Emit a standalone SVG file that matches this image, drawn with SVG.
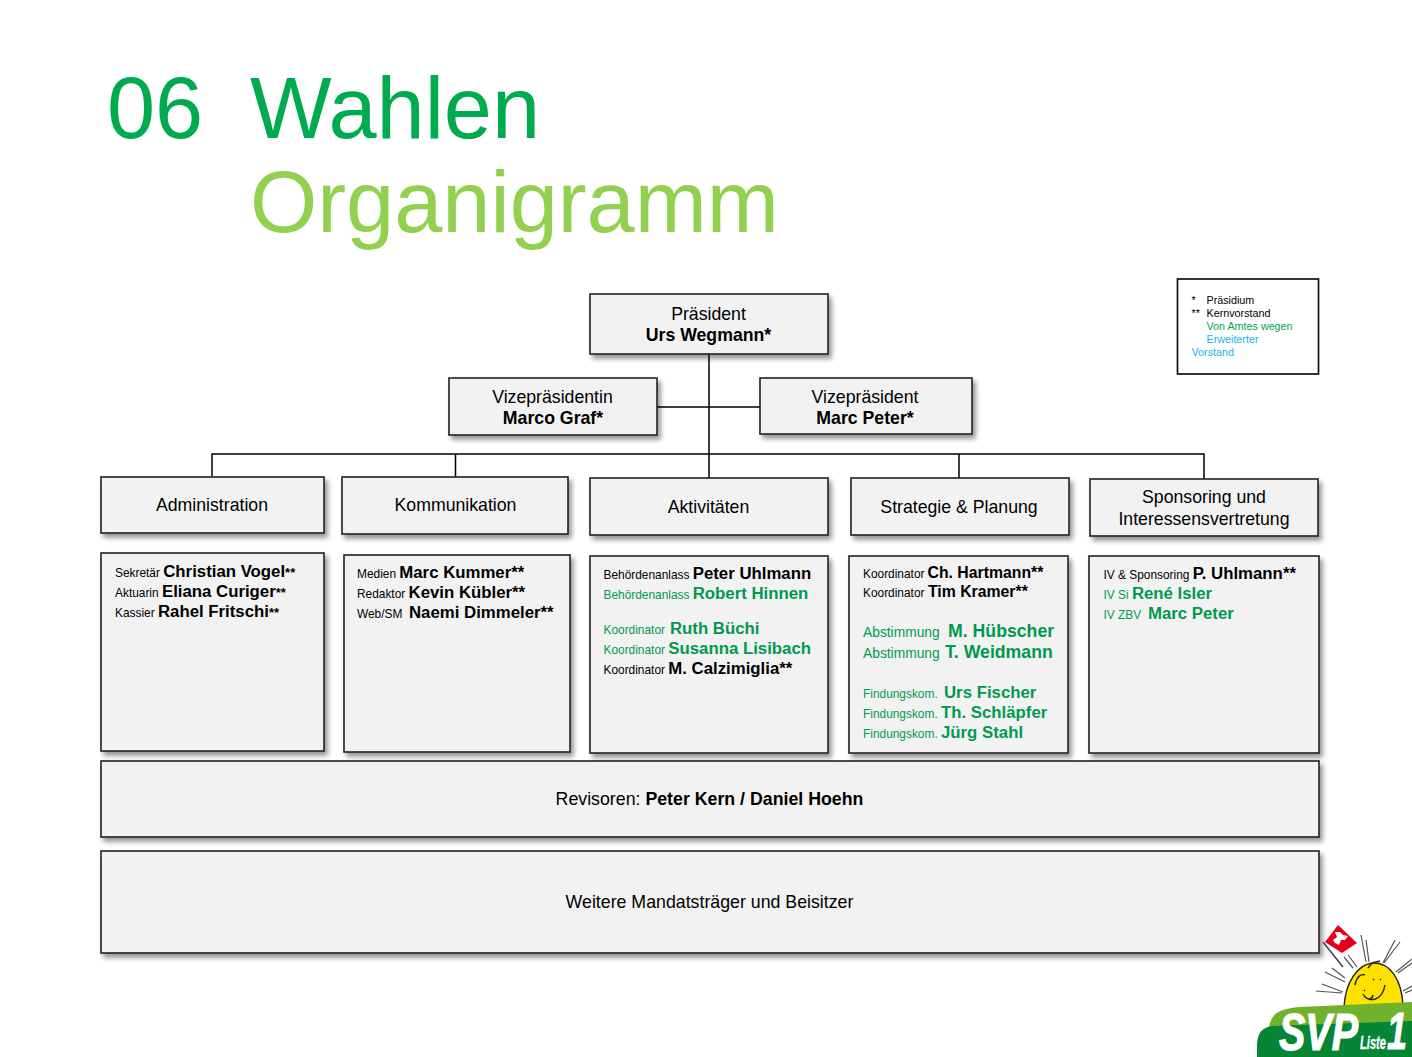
<svg xmlns="http://www.w3.org/2000/svg" width="1412" height="1057" viewBox="0 0 1412 1057">
<style>
text{font-family:"Liberation Sans",Arial,sans-serif;fill:#000}
.box{fill:#f2f2f2;stroke:#222;stroke-width:1.6;filter:url(#sh)}
.t{font-size:17.7px;text-anchor:middle}
.b{font-weight:bold}
.s{font-size:11.9px}
.st{font-size:13px;font-weight:bold}
.n{font-size:16.8px;font-weight:bold}
.h{font-size:15.8px;font-weight:bold}
.l{font-size:17.7px;font-weight:bold}
.a{font-size:13.8px}
.g,.g text{fill:#009a4e}
.conn{fill:none;stroke:#000;stroke-width:1.5}
.leg{font-size:10.75px}
.ray{fill:none;stroke:#555;stroke-width:1.2}
.logo{fill:#fff;font-weight:bold;font-style:italic;stroke:#fff}
</style>
<defs>
<filter id="sh" x="-5%" y="-10%" width="110%" height="125%">
<feDropShadow dx="3" dy="4" stdDeviation="2.4" flood-color="#000" flood-opacity=".42"/>
</filter>
</defs>
<rect width="1412" height="1057" fill="#fff"/>
<g id="title">
<text x="107" y="137.500" font-size="86.500" style="fill:#00ab50">06</text>
<text x="250" y="137.500" font-size="86.500" style="fill:#00ab50">Wahlen</text>
<text x="250" y="231.500" font-size="86.500" style="fill:#92d050">Organigramm</text>
</g>
<g id="connectors" class="conn">
<path d="M709 354V478M657 407H760M212 476V454H1204V480M455.500 454V477M959 454V478"/>
</g>
<g id="praesident"><rect class="box" x="590" y="294" width="238" height="60"/><text class="t" x="708.500" y="320">Präsident</text><text class="t b" x="708.500" y="341">Urs Wegmann*</text></g>
<g id="vize1"><rect class="box" x="449" y="378" width="208" height="57"/><text class="t" x="552.500" y="403">Vizepräsidentin</text><text class="t b" x="553" y="424">Marco Graf*</text></g>
<g id="vize2"><rect class="box" x="760" y="378" width="212" height="56"/><text class="t" x="865" y="402.500">Vizepräsident</text><text class="t b" x="865" y="423.500">Marc Peter*</text></g>
<g id="administration"><rect class="box" x="101" y="477" width="223" height="56"/><text class="t" x="212" y="511">Administration</text></g>
<g id="kommunikation"><rect class="box" x="342" y="477" width="226" height="57"/><text class="t" x="455.500" y="511">Kommunikation</text></g>
<g id="aktivitaeten"><rect class="box" x="590" y="478" width="238" height="57"/><text class="t" x="708.500" y="513">Aktivitäten</text></g>
<g id="strategie"><rect class="box" x="851" y="478" width="218" height="57"/><text class="t" x="959" y="513">Strategie &amp; Planung</text></g>
<g id="sponsoring"><rect class="box" x="1090" y="479" width="228" height="57"/><text class="t" x="1204" y="503">Sponsoring und</text><text class="t" x="1204" y="525">Interessensvertretung</text></g>
<g id="admin-list"><rect class="box" x="101" y="553" width="223" height="198"/>
<text x="115" y="577"><tspan class="s">Sekretär </tspan><tspan class="n">Christian Vogel</tspan><tspan class="st">**</tspan></text>
<text x="115" y="597"><tspan class="s">Aktuarin </tspan><tspan class="n">Eliana Curiger</tspan><tspan class="st">**</tspan></text>
<text x="115" y="617"><tspan class="s">Kassier </tspan><tspan class="n">Rahel Fritschi</tspan><tspan class="st">**</tspan></text></g>
<g id="komm-list"><rect class="box" x="344" y="555" width="226" height="197"/>
<text x="357" y="578"><tspan class="s">Medien </tspan><tspan class="n">Marc Kummer**</tspan></text>
<text x="357" y="598"><tspan class="s">Redaktor </tspan><tspan class="n">Kevin Kübler**</tspan></text>
<text x="357" y="618"><tspan class="s">Web/SM </tspan><tspan class="n" x="409">Naemi Dimmeler**</tspan></text></g>
<g id="akt-list"><rect class="box" x="590" y="556" width="238" height="197"/>
<text x="603.500" y="579"><tspan class="s">Behördenanlass </tspan><tspan class="n">Peter Uhlmann</tspan></text>
<g class="g"><text x="603.500" y="599"><tspan class="s">Behördenanlass </tspan><tspan class="n">Robert Hinnen</tspan></text>
<text x="603.500" y="634"><tspan class="s">Koordinator </tspan><tspan class="n" x="670">Ruth Büchi</tspan></text>
<text x="603.500" y="654"><tspan class="s">Koordinator </tspan><tspan class="n">Susanna Lisibach</tspan></text></g>
<text x="603.500" y="674"><tspan class="s">Koordinator </tspan><tspan class="n">M. Calzimiglia**</tspan></text></g>
<g id="strat-list"><rect class="box" x="849" y="556" width="219" height="197"/>
<text x="863" y="578"><tspan class="s">Koordinator </tspan><tspan class="h" x="927.500">Ch. Hartmann**</tspan></text>
<text x="863" y="597"><tspan class="s">Koordinator </tspan><tspan class="h" x="928">Tim Kramer**</tspan></text>
<g class="g"><text x="863" y="637"><tspan class="a">Abstimmung </tspan><tspan class="l" x="948">M. Hübscher</tspan></text>
<text x="863" y="658"><tspan class="a">Abstimmung </tspan><tspan class="l" x="945">T. Weidmann</tspan></text>
<text x="863" y="698"><tspan class="s">Findungskom. </tspan><tspan class="n" x="944">Urs Fischer</tspan></text>
<text x="863" y="718"><tspan class="s">Findungskom. </tspan><tspan class="n" x="941">Th. Schläpfer</tspan></text>
<text x="863" y="738"><tspan class="s">Findungskom. </tspan><tspan class="n" x="941">Jürg Stahl</tspan></text></g></g>
<g id="spons-list"><rect class="box" x="1089" y="556" width="230" height="197"/>
<text x="1103.500" y="579"><tspan class="s">IV &amp; Sponsoring </tspan><tspan class="n">P. Uhlmann**</tspan></text>
<g class="g"><text x="1103.500" y="599"><tspan class="s">IV Si </tspan><tspan class="n">René Isler</tspan></text>
<text x="1103.500" y="619"><tspan class="s">IV ZBV </tspan><tspan class="n" x="1148">Marc Peter</tspan></text></g></g>
<g id="revisoren"><rect class="box" x="101" y="761" width="1218" height="76"/><text x="709.500" y="805" text-anchor="middle" font-size="17.750">Revisoren: <tspan class="b">Peter Kern / Daniel Hoehn</tspan></text></g>
<g id="weitere"><rect class="box" x="101" y="851" width="1218" height="102"/><text x="709.500" y="908" text-anchor="middle" font-size="17.750">Weitere Mandatsträger und Beisitzer</text></g>
<g id="legend"><rect x="1177.500" y="279" width="141" height="95" fill="#fff" stroke="#111" stroke-width="1.700"/>
<g class="leg"><text x="1191.500" y="304">*</text><text x="1206.500" y="304">Präsidium</text>
<text x="1191.500" y="317">**</text><text x="1206.500" y="317">Kernvorstand</text>
<text x="1206.500" y="330" style="fill:#00a651">Von Amtes wegen</text>
<text x="1206.500" y="343" style="fill:#19b5ee">Erweiterter</text>
<text x="1191.500" y="356" style="fill:#19b5ee">Vorstand</text></g></g>
<g id="logo">
<g class="ray"><path d="M1361 935L1366 962M1366 940L1369 962M1395 940L1383 963M1400 942L1384 963M1412 959L1396 972M1412 963L1398 973M1412 986L1403 991M1412 990L1405 993M1325 972L1345 982M1332 968L1345 978M1316 991L1342 993M1322 984L1343 992M1344 957L1353 968M1348 955L1357 967"/></g>
<path d="M1344 1008C1345 982 1358 964 1373 963C1390 962 1402 980 1403 1006Z" fill="#ffe100" stroke="#222" stroke-width="1.400"/>
<path d="M1355 985C1357 975 1362 974 1365 975M1364 996C1368 1000 1372 1000 1373 995M1363 994C1368 1003 1382 1002 1385 985M1373 979L1374 980M1380 979L1381 980M1364 990L1365 991M1368 968L1372 963C1375 962 1378 962 1380 961" fill="none" stroke="#222" stroke-width="1.400"/>
<path d="M1338 925L1357 943L1342 953L1325 942Z" fill="#e2001a"/>
<path d="M1333 940L1337 937L1335 932L1340 932L1343 935L1348 936L1345 940L1341 940L1339 945L1335 943Z" fill="#fff"/>
<path d="M1323 942L1343 967" fill="none" stroke="#444" stroke-width="1.500"/>
<path d="M1269 1027C1272 1012 1280 1009 1300 1007L1412 1002V1030H1269Z" fill="#70b22c"/>
<path d="M1257 1057V1044C1258 1032 1262 1028 1272 1026L1412 1021V1057Z" fill="#068534"/>
<text class="logo" x="1279" y="1050" font-size="52" textLength="79" lengthAdjust="spacingAndGlyphs" stroke-width="1.200">SVP</text>
<text class="logo" x="1360" y="1049" font-size="19" textLength="26" lengthAdjust="spacingAndGlyphs" stroke-width=".3">Liste</text>
<text class="logo" x="1387" y="1049" font-size="52" textLength="20" lengthAdjust="spacingAndGlyphs" stroke-width="1">1</text>
</g>
</svg>
